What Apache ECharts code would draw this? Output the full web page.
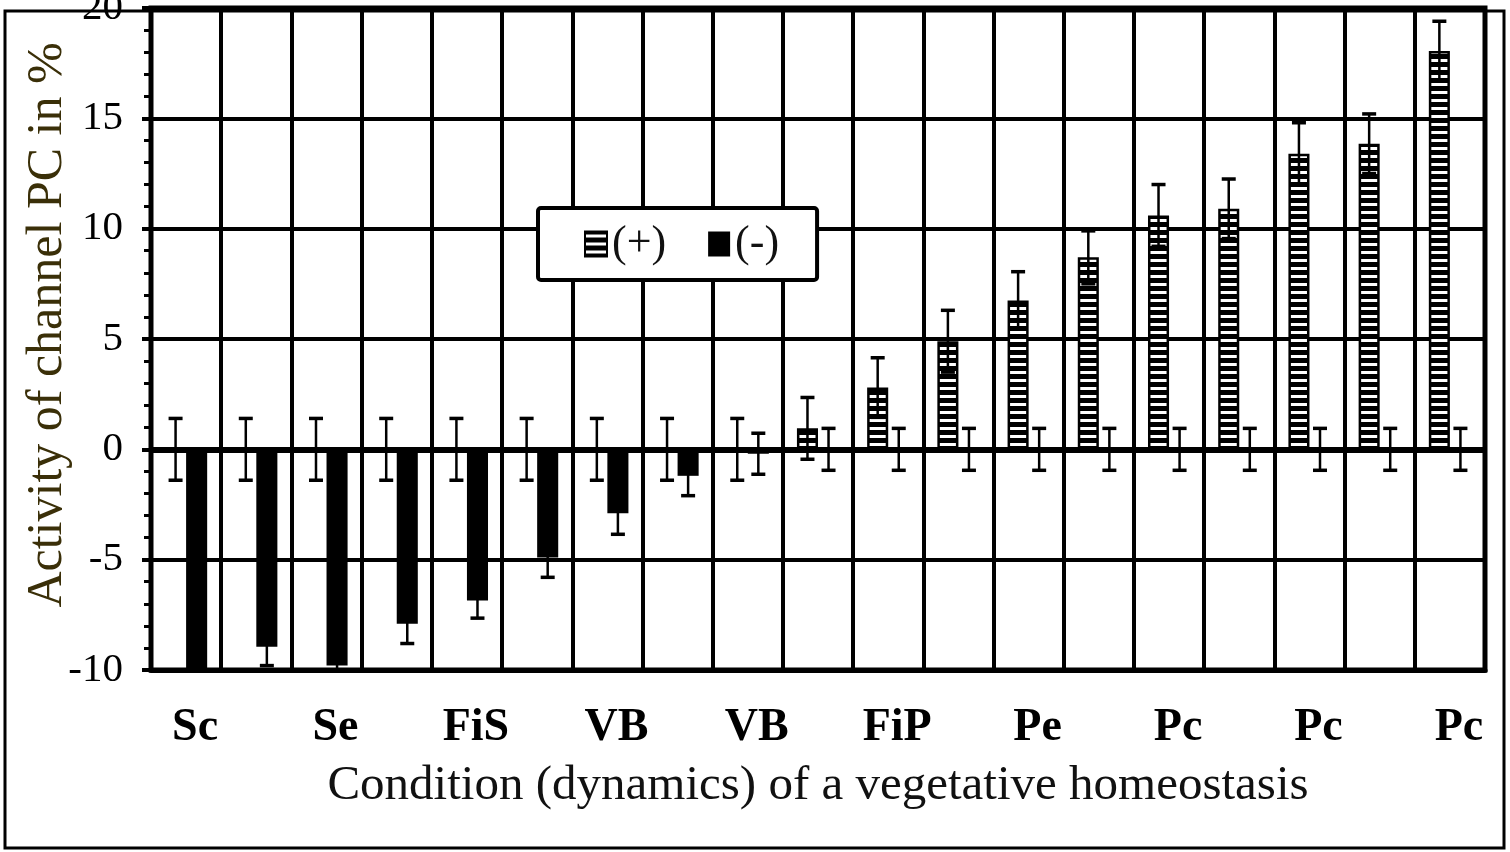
<!DOCTYPE html>
<html>
<head>
<meta charset="utf-8">
<title>Activity of channel PC</title>
<script src="https://cdn.jsdelivr.net/npm/echarts@6/dist/echarts.min.js"></script>
<style>
  html, body { margin: 0; padding: 0; background: #fff; }
  #chart { width: 1510px; height: 852px; }
</style>
</head>
<body>
<div id="chart"></div>
<script>
  // conditions (only every other one is labelled on the axis)
  const categories = ['Sc', '', 'Se', '', 'FiS', '', 'VB', '', 'VB', '', 'FiP', '', 'Pe', '', 'Pc', '', 'Pc', '', 'Pc']

  // (+) series, hatched bars
  const plusValues = [0, 0, 0, 0, 0, 0, 0, 0, 0, 0.95, 2.8, 4.9, 6.75, 8.7, 10.6, 10.9, 13.4, 13.85, 18.05]
  const plusErrors = [1.4, 1.4, 1.4, 1.4, 1.4, 1.4, 1.4, 1.4, 1.4, 1.4, 1.35, 1.4, 1.3, 1.2, 1.4, 1.35, 1.4, 1.35, 1.35]

  // (-) series, black bars
  const minusValues = [-10, -8.95, -9.8, -7.9, -6.85, -4.9, -2.9, -1.2, -0.2, 0, 0, 0, 0, 0, 0, 0, 0, 0, 0]
  const minusErrors = [0.9, 0.85, 0.9, 0.9, 0.8, 0.9, 0.95, 0.9, 0.93, 0.95, 0.95, 0.95, 0.95, 0.95, 0.95, 0.95, 0.95, 0.95, 0.95]

  const yTicks = { min: -10, max: 20, interval: 5 }

  const serif = "'Liberation Serif', 'Times New Roman', serif"

  // horizontal stripes for the (+) bars
  function stripes() {
    const c = document.createElement('canvas')
    c.width = 8
    c.height = 8
    const ctx = c.getContext('2d')
    ctx.fillStyle = '#000'
    ctx.fillRect(0, 0, 8, 8)
    ctx.fillStyle = '#fff'
    ctx.fillRect(0, 3, 8, 3)
    return c
  }

  function errorBar(offsetRatio) {
    return function (params, api) {
      const idx = api.value(0)
      const v = api.value(1)
      const e = api.value(2)
      const band = api.size([1, 0])[0]
      const x = api.coord([idx, v])[0] + band * offsetRatio
      const yTop = api.coord([idx, v + e])[1]
      const yBot = api.coord([idx, v - e])[1]
      const half = 7
      return {
        type: 'group',
        children: [
          { type: 'line', shape: { x1: x, y1: yTop, x2: x, y2: yBot }, style: { stroke: '#000', lineWidth: 2.5 } },
          { type: 'line', shape: { x1: x - half, y1: yTop, x2: x + half, y2: yTop }, style: { stroke: '#000', lineWidth: 3.5 } },
          { type: 'line', shape: { x1: x - half, y1: yBot, x2: x + half, y2: yBot }, style: { stroke: '#000', lineWidth: 3.5 } }
        ]
      }
    }
  }

  const chart = echarts.init(document.getElementById('chart'))

  chart.setOption({
    animation: false,
    backgroundColor: '#fff',
    graphic: [{
      type: 'rect',
      z: -10,
      shape: { x: 5, y: 11, width: 1499, height: 837 },
      style: { fill: 'none', stroke: '#000', lineWidth: 3 }
    }],
    grid: {
      left: 151,
      right: 25,
      top: 8,
      bottom: 182,
      outerBoundsMode: 'none',
      containLabel: false,
      show: true,
      borderColor: '#000',
      borderWidth: 5,
      backgroundColor: 'transparent'
    },
    legend: {
      data: ['(+)', '(-)'],
      left: 538,
      top: 208,
      orient: 'horizontal',
      icon: 'rect',
      backgroundColor: '#fff',
      borderColor: '#000',
      borderWidth: 4,
      borderRadius: 3,
      padding: [14, 38, 14, 46],
      itemGap: 42,
      itemWidth: 22,
      itemHeight: 25,
      textStyle: { fontFamily: serif, fontSize: 44, color: '#111' }
    },
    xAxis: {
      type: 'category',
      data: categories,
      boundaryGap: true,
      axisLine: { onZero: false, lineStyle: { color: '#000', width: 5 } },
      axisTick: { show: false },
      splitLine: { show: true, interval: 0, lineStyle: { color: '#000', width: 4 } },
      axisLabel: {
        interval: 0,
        margin: 35,
        padding: [0, 0, 0, 18],
        fontFamily: serif,
        fontWeight: 'bold',
        fontSize: 46,
        color: '#000'
      },
      name: 'Condition (dynamics) of a vegetative homeostasis',
      nameLocation: 'middle',
      nameGap: 92,
      nameMoveOverlap: false,
      nameTextStyle: { fontFamily: serif, fontSize: 49, color: '#111' }
    },
    yAxis: {
      type: 'value',
      min: yTicks.min,
      max: yTicks.max,
      interval: yTicks.interval,
      axisLine: { show: true, lineStyle: { color: '#000', width: 4 } },
      axisTick: { show: true, length: 9, lineStyle: { color: '#000', width: 4 } },
      minorTick: { show: true, splitNumber: 5, length: 7, lineStyle: { color: '#000', width: 3 } },
      splitLine: { show: true, lineStyle: { color: '#000', width: 4 } },
      axisLabel: { margin: 28, fontFamily: serif, fontSize: 41, color: '#000' },
      name: 'Activity of channel PC in %',
      nameLocation: 'middle',
      nameRotate: 90,
      nameGap: 78,
      nameMoveOverlap: false,
      nameTextStyle: { fontFamily: serif, fontSize: 50, color: '#3a2f08', padding: [0, 0, 0, 28] }
    },
    series: [
      {
        name: '(+)',
        type: 'bar',
        barWidth: '30%',
        barGap: '0%',
        data: plusValues,
        itemStyle: { color: { image: stripes(), repeat: 'repeat' }, borderColor: '#000', borderWidth: 2.5 }
      },
      {
        name: '(-)',
        type: 'bar',
        barWidth: '30%',
        barGap: '0%',
        data: minusValues,
        itemStyle: { color: '#000' },
        markLine: {
          silent: true,
          symbol: 'none',
          label: { show: false },
          lineStyle: { color: '#000', width: 6, type: 'solid' },
          data: [{ yAxis: 0 }]
        }
      },
      {
        name: 'plusErr',
        type: 'custom',
        clip: true,
        z: 5,
        renderItem: errorBar(-0.15),
        encode: { x: 0, y: 1 },
        data: plusValues.map((v, i) => [i, v, plusErrors[i]])
      },
      {
        name: 'minusErr',
        type: 'custom',
        clip: true,
        z: 5,
        renderItem: errorBar(0.15),
        encode: { x: 0, y: 1 },
        data: minusValues.map((v, i) => [i, v, minusErrors[i]])
      }
    ]
  })
</script>
</body>
</html>
